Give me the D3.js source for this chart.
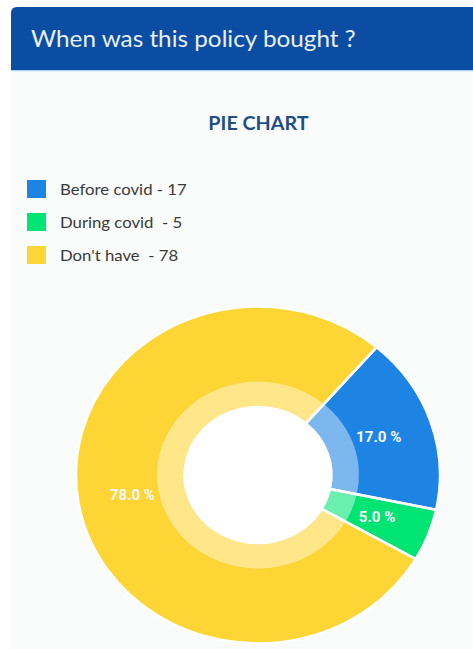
<!DOCTYPE html>
<html>
<head>
<meta charset="utf-8">
<script src="https://cdn.jsdelivr.net/npm/d3@7/dist/d3.min.js"></script>
<style>
  html, body { margin: 0; padding: 0; background: #ffffff; }
  svg { display: block; }
  text { white-space: pre; }
</style>
</head>
<body>
<svg id="chart" width="473" height="649"></svg>
<script>
// Survey answers: when the policy was bought
const categories = ["Before covid", "During covid", "Don't have"];
const counts = [17, 5, 78];
const legendLabels = ["Before covid - 17", "During covid  - 5", "Don't have  - 78"];
const sliceColors = ["#1E84E4", "#00E474", "#FDD535"];
const headerTitle = "When was this policy bought ?";
const chartTitle = "PIE CHART";

const W = 473, H = 649;
const sx = 1.08; // slight horizontal stretch of the whole card
const svg = d3.select("#chart");

// Card body and header band
svg.append("rect").attr("x", 11).attr("y", 7).attr("width", W - 11).attr("height", H - 7)
  .attr("fill", "#FAFBFB");
svg.append("path")
  .attr("d", `M11,70 L11,13 Q11,7 17,7 L${W},7 L${W},70 Z`)
  .attr("fill", "#0B4DA2");
svg.append("rect").attr("x", 11).attr("y", 70).attr("width", W - 11).attr("height", 1.2)
  .attr("fill", "#A9D3EE");
svg.append("text")
  .attr("transform", `translate(31,46.5) scale(${sx},1)`)
  .attr("font-family", "Lato, 'Open Sans', sans-serif")
  .attr("font-size", 22.5)
  .attr("fill", "#E9EFF7")
  .text(headerTitle);

// Chart title
svg.append("text")
  .attr("transform", `translate(258.5,130) scale(${sx},1)`)
  .attr("text-anchor", "middle")
  .attr("font-family", "Lato, 'Open Sans', sans-serif")
  .attr("font-weight", "bold")
  .attr("font-size", 18.3)
  .attr("fill", "#1F4E86")
  .text(chartTitle);

// Legend
const legend = svg.append("g").attr("transform", "translate(27,180)");
const rows = legend.selectAll("g").data(categories).join("g")
  .attr("transform", (d, i) => `translate(0,${i * 33})`);
rows.append("rect").attr("width", 19).attr("height", 18)
  .attr("fill", (d, i) => sliceColors[i]);
rows.append("text")
  .attr("transform", `translate(33,15) scale(${sx},1)`)
  .attr("font-family", "Lato, 'Open Sans', sans-serif")
  .attr("font-size", 15.5)
  .attr("fill", "#3A3A3A")
  .text((d, i) => legendLabels[i]);

// Donut
const cx = 258, cy = 475;
const rOuter = 168.5, rRing = 93.5, rHole = 68;
const start = 40.7 * Math.PI / 180;
const total = d3.sum(counts);

const pie = d3.pie().sort(null).startAngle(start).endAngle(start + 2 * Math.PI);
const arcs = pie(counts);
const arc = d3.arc().innerRadius(rHole).outerRadius(rOuter);
const ring = d3.arc().innerRadius(rHole).outerRadius(rRing);
const labelArc = d3.arc().innerRadius(118).outerRadius(118);

const g = svg.append("g").attr("transform", `translate(${cx},${cy}) scale(${sx},1)`);
g.selectAll("path.slice").data(arcs).join("path")
  .attr("class", "slice")
  .attr("d", arc)
  .attr("fill", (d, i) => sliceColors[i]);
// translucent inner band
g.selectAll("path.band").data(arcs).join("path")
  .attr("class", "band")
  .attr("d", ring)
  .attr("fill", "#ffffff")
  .attr("fill-opacity", 0.42);
// separators between slices
g.selectAll("path.sep").data(arcs).join("path")
  .attr("class", "sep")
  .attr("d", arc)
  .attr("fill", "none")
  .attr("stroke", "#ffffff")
  .attr("stroke-width", 2.5)
  .attr("vector-effect", "non-scaling-stroke");
g.append("circle").attr("r", rHole).attr("fill", "#ffffff");

// Percentage labels
svg.append("g").selectAll("text").data(arcs).join("text")
  .attr("transform", d => `translate(${cx + labelArc.centroid(d)[0] * sx},${cy + labelArc.centroid(d)[1]}) scale(${sx},1)`)
  .attr("dy", "0.35em")
  .attr("text-anchor", "middle")
  .attr("font-family", "Roboto, sans-serif")
  .attr("font-weight", "bold")
  .attr("font-size", 14)
  .attr("fill", "#F4F6F8")
  .text(d => (d.data / total * 100).toFixed(1) + " %");
</script>
</body>
</html>
